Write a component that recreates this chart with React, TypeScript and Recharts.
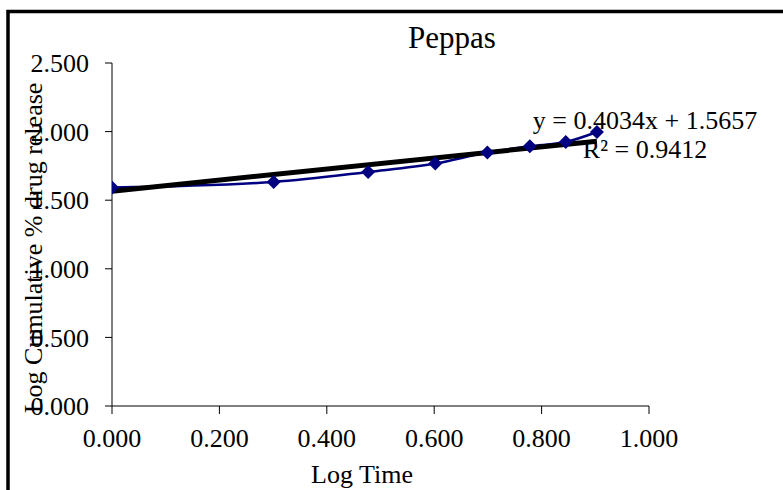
import { ComposedChart, Line, XAxis, YAxis } from "recharts";

// log(time) vs log(cumulative % release)
const logTime = [0, 0.301, 0.477, 0.602, 0.699, 0.778, 0.845, 0.903];
const logRelease = [1.592, 1.633, 1.706, 1.767, 1.847, 1.893, 1.924, 1.997];

// linear trendline as drawn (y = 0.4034x + 1.5657)
const trendTime = [0, 0.903];
const trendRelease = [1.566, 1.93];

const xTicks = [0, 0.2, 0.4, 0.6, 0.8, 1.0];
const yTicks = [0, 0.5, 1.0, 1.5, 2.0, 2.5];

const FONT = '"Liberation Serif", "Times New Roman", serif';

const points = logTime.map((x, i) => ({ x, y: logRelease[i] }));
const trend = trendTime.map((x, i) => ({ x, y: trendRelease[i] }));

const Diamond = (props: any) => {
  const { cx, cy } = props;
  if (cx == null || cy == null) return null;
  const r = 7;
  return (
    <path
      d={`M${cx},${cy - r}L${cx + r},${cy}L${cx},${cy + r}L${cx - r},${cy}Z`}
      fill="#000080"
    />
  );
};

export default function App() {
  const tickStyle = { fill: "#000", fontSize: 26, fontFamily: FONT };

  return (
    <div
      style={{
        position: "absolute",
        left: 0,
        top: 0,
        width: 783,
        height: 490,
        background: "#fff",
        overflow: "hidden",
      }}
    >
      <ComposedChart
        width={783}
        height={490}
        margin={{ top: 63, right: 134, bottom: 0, left: 0 }}
        style={{ position: "absolute", left: 0, top: 0 }}
      >
        <XAxis
          type="number"
          dataKey="x"
          domain={[0, 1]}
          ticks={xTicks}
          interval={0}
          tickFormatter={(v: number) => v.toFixed(3)}
          height={84}
          tickSize={8}
          tickMargin={15}
          tick={tickStyle}
          axisLine={{ stroke: "#000", strokeWidth: 1 }}
          tickLine={{ stroke: "#000", strokeWidth: 1 }}
          allowDataOverflow
        />
        <YAxis
          type="number"
          dataKey="y"
          domain={[0, 2.5]}
          ticks={yTicks}
          interval={0}
          tickFormatter={(v: number) => v.toFixed(3)}
          width={112}
          tickSize={7}
          tickMargin={16}
          tick={tickStyle}
          axisLine={{ stroke: "#000", strokeWidth: 1 }}
          tickLine={{ stroke: "#000", strokeWidth: 1 }}
          allowDataOverflow
        />
        <Line
          data={points}
          dataKey="y"
          type="monotone"
          stroke="#000080"
          strokeWidth={2.5}
          dot={<Diamond />}
          activeDot={false}
          isAnimationActive={false}
        />
        <Line
          data={trend}
          dataKey="y"
          type="linear"
          stroke="#000"
          strokeWidth={5}
          dot={false}
          activeDot={false}
          isAnimationActive={false}
        />
      </ComposedChart>

      <svg
        width={783}
        height={490}
        style={{ position: "absolute", left: 0, top: 0, pointerEvents: "none" }}
      >
        <rect
          x={8}
          y={11.5}
          width={800}
          height={500}
          fill="none"
          stroke="#000"
          strokeWidth={3.5}
        />
        <text x={452} y={48} textAnchor="middle" fontFamily={FONT} fontSize={31}>
          Peppas
        </text>
        <text x={645} y={129} textAnchor="middle" fontFamily={FONT} fontSize={26}>
          y = 0.4034x + 1.5657
        </text>
        <text x={645} y={158} textAnchor="middle" fontFamily={FONT} fontSize={26}>
          R² = 0.9412
        </text>
        <text x={362} y={483} textAnchor="middle" fontFamily={FONT} fontSize={26}>
          Log Time
        </text>
        <text
          x={41.5}
          y={248}
          textAnchor="middle"
          fontFamily={FONT}
          fontSize={26}
          transform="rotate(-90 41.5 248)"
        >
          Log Cumulative % drug release
        </text>
      </svg>
    </div>
  );
}
